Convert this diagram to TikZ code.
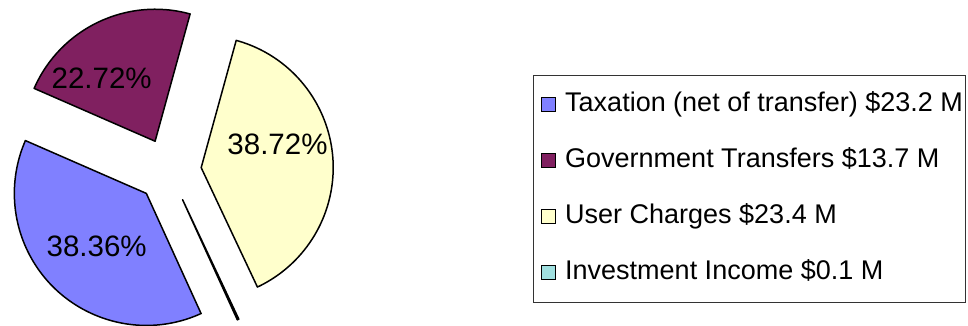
\documentclass[tikz,border=0pt]{standalone}
\usepackage{fontspec}
\setmainfont{Liberation Sans}
\usetikzlibrary{positioning,calc}

\definecolor{taxblue}{RGB}{128,128,255}
\definecolor{govplum}{RGB}{128,32,96}
\definecolor{useryellow}{RGB}{255,255,204}
\definecolor{investcyan}{RGB}{160,224,224}

\tikzset{
  slice/.style={draw=black,line width=1.5pt,line join=round},
  pct/.style={font=\fontsize{29.5}{34}\selectfont,inner sep=0pt},
  key/.style={draw=black,line width=1.2pt,minimum size=14pt,inner sep=0pt},
  entry/.style={font=\fontsize{27}{31}\selectfont,inner sep=0pt,anchor=base west}
}

\begin{document}
\begin{tikzpicture}[x=1pt,y=1pt]
	\useasboundingbox (0,0) rectangle (968,326);
	\coordinate (c) at (169,155.6);
	% exploded slices
	\draw[slice,fill=taxblue] ($(c)+(225.45:32.3)$) coordinate (tax) -- ++(294.5:132) arc (294.5:156.4:132) -- cycle;
	\draw[slice,fill=govplum] ($(c)+(115.5:32.3)$) coordinate (gov) -- ++(156.4:132) arc (156.4:74.61:132) -- cycle;
	\draw[slice,fill=useryellow] ($(c)+(4.9:32.3)$) coordinate (user) -- ++(74.61:132) arc (74.61:-64.78:132) -- cycle;
	\draw[slice,fill=investcyan] ($(c)+(-65.15:32.3)$) coordinate (inv) -- ++(-64.78:132) arc (-64.78:-65.5:132) -- cycle;
	% percentages
	\node[pct] (pgov) at (101.7,248) {22.72\%};
	\node[pct] (ptax) at (96.7,80) {38.36\%};
	\node[pct] (puser) at (277.5,182) {38.72\%};
	% legend
	\draw[line width=1pt,draw=black!80] (533,23.3) rectangle (965,250);
	\node[key,fill=taxblue] (ktax) at (548.5,221.8) {};
	\node[key,fill=govplum] (kgov) at (548.5,165.5) {};
	\node[key,fill=useryellow] (kuser) at (548.5,109.5) {};
	\node[key,fill=investcyan] (kinv) at (548.5,53.8) {};
	\node[entry] (ltax) at (565,214.3) {Taxation (net of transfer) \$23.2 M};
	\node[entry] (lgov) at (565,158) {Government Transfers \$13.7 M};
	\node[entry] (luser) at (565,102) {User Charges \$23.4 M};
	\node[entry] (linv) at (565,46.3) {Investment Income \$0.1 M};
\end{tikzpicture}
\end{document}
